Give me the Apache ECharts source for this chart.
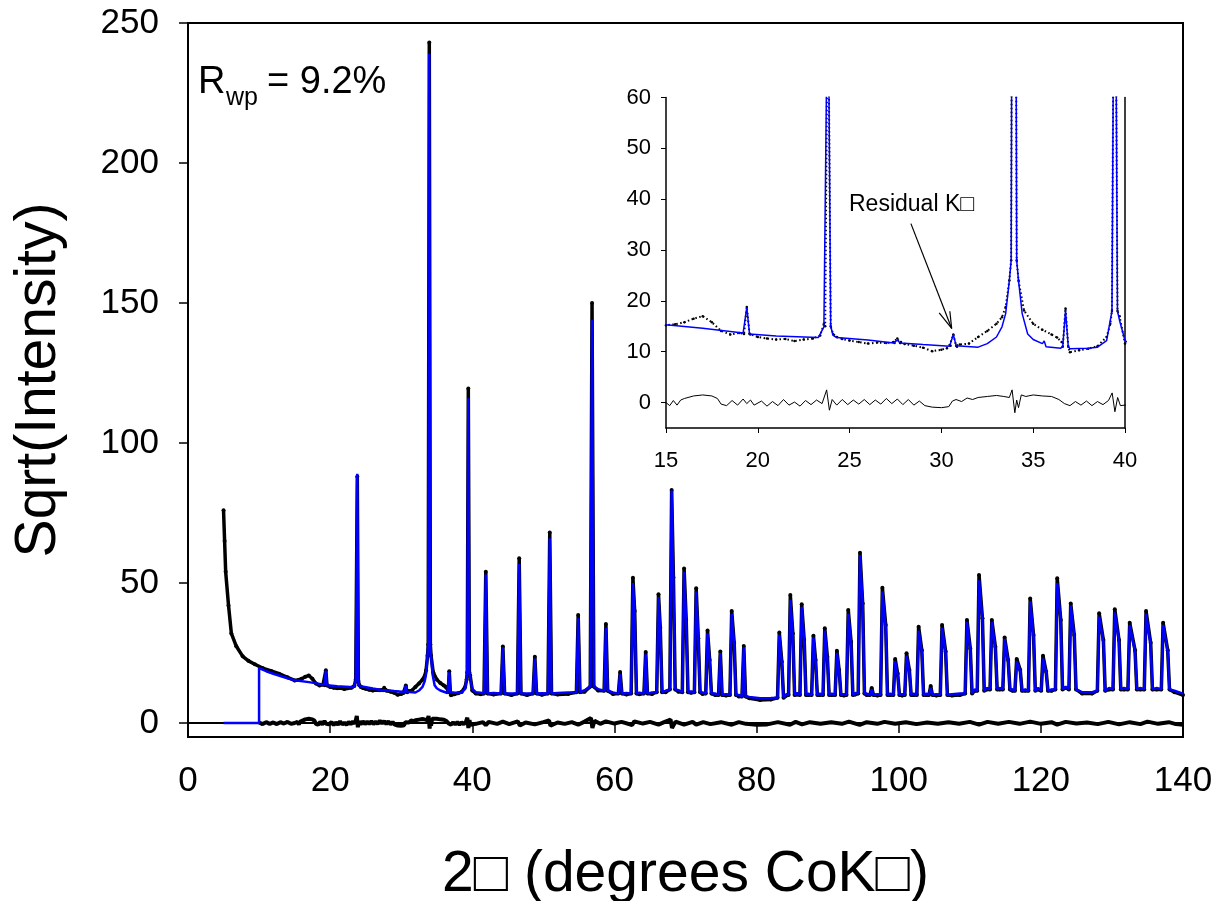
<!DOCTYPE html>
<html><head><meta charset="utf-8">
<script src="https://cdn.jsdelivr.net/npm/echarts@6/dist/echarts.min.js"></script>
<style>html,body{margin:0;padding:0;background:#fff}#c{width:1217px;height:901px}</style>
</head><body><div id="c"></div>
<script>
// ---------------- DATA ----------------
const mainXTicks = [0, 20, 40, 60, 80, 100, 120, 140];
const mainYTicks = [0, 50, 100, 150, 200, 250];
const insetXTicks = [15, 20, 25, 30, 35, 40];
const insetYTicks = [0, 10, 20, 30, 40, 50, 60];

// Bragg peaks: [2θ, observed top, calculated top, local base, (shoulder 2θ, shoulder obs, shoulder calc)]
const peaks = [
  [19.4, 18.8, 18.7, 13.5],
  [23.82, 88, 89, 15],
  [27.6, 12.6, 12.3, 11.7],
  [30.65, 13.4, 13.4, 11.2],
  [33.95, 243, 239, 28],
  [36.76, 18.5, 18.1, 11],
  [39.44, 119.5, 116, 18],
  [41.9, 54, 53, 10.5],
  [44.3, 27.3, 27, 10.5],
  [46.6, 58.8, 56.8, 10.5],
  [48.8, 23.7, 23, 10.5],
  [50.9, 68, 66, 10.5],
  [54.9, 38.6, 37.5, 11],
  [56.85, 150, 144, 13],
  [58.8, 35.4, 34, 11.5],
  [60.8, 18.2, 17.5, 10.5],
  [62.6, 51.9, 50, 10.5, 62.85, 40, 39],
  [64.4, 25.4, 24.5, 10.5],
  [66.2, 46, 45, 11, 66.45, 34, 33],
  [68.05, 83.2, 83, 12, 68.3, 52, 50],
  [69.8, 55.2, 54, 11, 70.1, 36.8, 36],
  [71.5, 48.1, 47, 11, 71.8, 30.3, 30],
  [73.1, 33, 32, 10.5, 73.4, 22.5, 22],
  [74.9, 25.5, 25, 10],
  [76.5, 40, 39, 10, 76.85, 28.6, 28],
  [78.2, 27.5, 27, 9.5],
  [83.2, 32.3, 31.5, 9, 83.55, 21.9, 21.5],
  [84.75, 45.7, 44, 10, 85.1, 32, 31],
  [86.35, 42.4, 41.5, 10, 86.7, 29.6, 29],
  [88.0, 31.2, 30.5, 10, 88.3, 22.5, 22],
  [89.6, 33.8, 33, 10, 89.96, 23.7, 23],
  [91.3, 25.8, 25, 10, 91.62, 18.9, 18.5],
  [92.9, 40.4, 39, 10, 93.3, 29, 28.5],
  [94.55, 60.8, 60, 10.5, 94.93, 42.7, 42],
  [96.2, 12.5, 12, 10],
  [97.7, 48.3, 47, 10, 98.17, 35, 34],
  [99.5, 22.9, 22, 10, 99.85, 17.7, 17.2],
  [101.1, 24.9, 24, 10, 101.5, 18.9, 18.5],
  [102.8, 34.4, 33, 10, 103.25, 26, 25.5],
  [104.5, 13.2, 12.5, 10],
  [106.1, 35, 34, 10, 106.6, 25.5, 25],
  [109.6, 36.8, 36, 10.5, 110.07, 26.6, 26],
  [111.3, 52.9, 51, 11.5, 111.78, 37.4, 36.5],
  [113.1, 36.8, 36, 12, 113.6, 27.2, 26.5],
  [114.9, 30.5, 30, 12, 115.4, 22.5, 22],
  [116.6, 22.9, 22, 11.5, 117.1, 18.9, 18.5],
  [118.5, 44.5, 43.5, 11.5, 118.97, 31.4, 31],
  [120.3, 24, 23, 11.5, 120.75, 18.3, 18],
  [122.3, 51.7, 50, 12, 122.8, 36.8, 36],
  [124.2, 42.7, 42, 12, 124.7, 31.4, 31],
  [128.2, 39.2, 38, 11.5, 128.8, 29.6, 29],
  [130.4, 40.6, 39.5, 12, 131.0, 29.6, 29],
  [132.5, 35.8, 35, 12, 133.25, 26, 25.5],
  [134.8, 40, 39, 12, 135.45, 28.7, 28],
  [137.2, 35.8, 35, 12, 137.85, 26, 25.5]
];

// observed profile between peaks [2θ, sqrt(I)]
const obsBetween = [
  [5.0,76],[5.15,65],[5.3,54],[5.7,42],[6.1,32],[6.8,27.4],[7.7,23.8],[8.5,22.2],[9.4,21.0],
  [10.5,19.6],[11.7,18.6],[12.8,17.6],[14.0,16.3],[15.0,15.2],[15.5,15.4],[16.0,15.8],[16.5,16.5],
  [17.0,17.0],[17.5,15.8],[18.0,14.1],[18.5,13.4],[19.0,13.7],[19.6,13.4],[20.0,12.9],[20.5,12.6],
  [21.0,12.4],[21.5,12.5],[22.0,12.1],[22.5,12.4],[23.0,12.6],[23.4,13.2],[23.6,15.5],[24.1,13.5],
  [24.3,12.9],[24.6,12.5],[25.0,12.2],[25.5,11.9],[26.0,11.6],[26.5,11.8],[27.0,11.7],[27.4,11.9],
  [27.8,11.9],[28.0,11.5],[28.5,11.2],[29.0,10.8],[29.5,10.1],[30.0,10.4],[30.3,10.7],[30.45,11.3],
  [30.85,11.0],[31.0,11.4],[31.5,11.6],[32.0,12.9],[32.5,14.1],[33.0,15.5],[33.3,16.8],[33.5,18.8],
  [33.7,24],[34.2,24],[34.5,18.1],[35.0,15.5],[35.5,14.3],[36.0,13.4],[36.3,12.8],[36.55,11.9],
  [37.0,9.9],[37.5,10.3],[38.0,10.6],[38.5,11.1],[39.0,12.9],[39.2,15.5],[39.7,17],[40.0,11.6],
  [40.5,10.5],[41.2,10.3],[43.0,10.2],[45.5,10.0],[47.7,10.0],[49.8,10.1],[52.0,10.2],[53.5,10.4],
  [55.8,11.2],[57.7,11.6],[59.8,10.4],[61.7,10.2],[63.5,10.3],[65.3,10.4],[67.2,11],[69.0,11.2],
  [70.8,10.8],[72.4,10.4],[74.2,10.0],[75.7,9.8],[77.5,9.5],[79.0,8.8],[80.5,8.2],[82.0,8.4],
  [84.2,9.8],[85.7,10.2],[87.3,10],[88.9,10],[90.6,10],[92.3,9.8],[93.9,10.2],[95.5,10],
  [97.0,9.8],[98.8,10],[100.5,9.8],[102.1,10],[103.9,10],[105.3,9.8],[107.5,9.8],[108.6,10],
  [110.7,11.5],[112.4,12],[114.2,12],[116.0,11.5],[117.8,11.5],[119.6,12],[121.5,11.5],[123.5,12.5],
  [125.8,10.5],[127.2,10.5],[129.6,12],[131.7,12],[134.0,12],[136.3,12],[138.8,11],[140.0,10]
];

// calculated profile between peaks [2θ, sqrt(I)]
const calcBetween = [
  [5,0],[10,0],[10,19.6],[11,18.5],[12,17.6],[13,16.8],[14,16.0],[15,15.3],[17,14.6],[19.2,13.7],
  [19.6,13.5],[21,13.1],[23.3,12.8],[23.6,14.9],[24.1,13.2],[24.3,12.8],[26,12.3],[27.4,11.7],
  [27.8,11.6],[29,11.4],[30.45,11.1],[30.85,11.1],[32.0,10.9],[32.5,11.6],[33.0,12.9],[33.3,14.9],
  [33.5,17.5],[33.7,24],[34.2,24],[34.4,17.5],[34.7,13.5],[35.0,12.4],[35.5,11.6],[35.6,12.1],
  [35.7,11.0],[36.5,10.7],[37.0,10.6],[38.0,10.7],[38.5,10.9],[39.0,12.2],[39.2,16.2],[39.7,16.2],
  [40.0,12.2],
  [40.5,11],[41.2,10.8],[43.0,10.7],[45.5,10.5],[47.7,10.5],[49.8,10.6],[52.0,10.7],[53.5,10.9],
  [55.8,11.7],[57.7,12.1],[59.8,10.9],[61.7,10.7],[63.5,10.8],[65.3,10.9],[67.2,11.5],[69.0,11.7],
  [70.8,11.3],[72.4,10.9],[74.2,10.5],[75.7,10.3],[77.5,10],[79.0,9.3],[80.5,8.8],[82.0,8.9],
  [84.2,10.3],[85.7,10.7],[87.3,10.5],[88.9,10.5],[90.6,10.5],[92.3,10.3],[93.9,10.7],[95.5,10.5],
  [97.0,10.3],[98.8,10.5],[100.5,10.3],[102.1,10.5],[103.9,10.5],[105.3,10.3],[107.5,10.3],[108.6,10.5],
  [110.7,12],[112.4,12.5],[114.2,12.5],[116.0,12],[117.8,12],[119.6,12.5],[121.5,12],[123.5,13],
  [125.8,11],[127.2,11],[129.6,12.5],[131.7,12.5],[134.0,12.5],[136.3,12.5],[138.8,11.5],[140.0,10.5]
];

// difference curve (obs - calc) [2θ, value]
const residual = [
  [10,0.2],[10.5,-0.4],[11,0.3],[11.5,-0.3],[12,0.2],[12.5,-0.4],[13,0.3],[13.5,-0.2],[14,0.4],[14.5,-0.3],
  [15.0,0],[15.2,-0.6],[15.4,0.4],[15.6,-0.5],[15.8,0.5],[16.0,0.8],[16.5,1.3],[17.0,1.5],[17.5,1.3],
  [17.8,0.8],[18.0,-0.3],[18.3,-0.6],[18.6,0.4],[18.9,-0.5],[19.2,0.7],[19.4,-0.2],[19.6,0.5],[19.8,-0.5],
  [20.2,0.3],[20.5,-0.7],[20.8,0.2],[21.1,-0.6],[21.4,0.6],[21.7,-0.5],[22.0,0.1],[22.3,-0.7],[22.6,0.4],
  [22.9,-0.4],[23.2,0.5],[23.5,-0.2],[23.75,2.5],[23.9,-1.5],[24.05,0.6],[24.3,-0.5],[24.6,0.6],[24.9,-0.4],
  [25.2,0.5],[25.5,-0.3],[25.8,0.6],[26.1,-0.4],[26.4,0.5],[26.7,-0.3],[27.0,0.8],[27.3,-0.2],[27.6,0.7],
  [27.9,-0.4],[28.2,0.6],[28.5,-0.5],[28.8,0.3],[29.1,-0.6],[29.5,-0.9],[30.0,-1.0],[30.4,-0.8],[30.6,0.3],
  [30.8,0.6],[31.1,0.2],[31.4,0.9],[31.7,0.6],[32.0,1.0],[32.5,1.2],[33.0,1.4],[33.4,1.2],[33.7,1.0],
  [33.85,2.5],[34.0,-2.0],[34.1,0.5],[34.2,-1.0],[34.35,1.5],[34.6,1.2],[35.0,1.5],[35.5,1.3],[36.0,1.2],
  [36.4,0.6],[36.7,-0.2],[37.0,-0.6],[37.3,0.2],[37.6,-0.5],[37.9,0.3],[38.2,-0.6],[38.5,0.2],[38.8,-0.4],
  [39.1,0.4],[39.3,1.9],[39.45,-1.8],[39.6,1.0],[39.75,-0.6],[40.0,-0.5],
  [40.5,-0.3],[41.5,0.3],[41.9,-0.8],[42.3,0.4],[43.5,-0.3],[44.3,0.5],[45.2,-0.4],[46.4,0.6],[46.7,-0.9],
  [47.5,0.2],[48.8,-0.5],[50,0.3],[50.8,0.9],[51.0,-1],[52,0.2],[53,-0.3],[54,0.3],[54.9,-0.6],[55.8,0.5],
  [56.7,1.8],[56.9,-1.8],[57.2,0.8],[58,-0.3],[58.8,0.6],[60,-0.2],[61,0.4],[62.5,-0.7],[62.8,0.6],[64,-0.2],
  [65,0.4],[66.2,-0.6],[67,0.3],[67.9,1.2],[68.1,-1.8],[68.6,0.5],[69.8,-0.6],[71,0.4],[71.5,-0.6],[72.5,0.3],
  [73.5,-0.4],[75,0.3],[76.5,-0.6],[77.5,0.3],[78.5,-0.3],[80,-0.6],[81.5,-0.5],[83,0.3],[84.7,-0.6],
  [85.5,0.4],[86.4,-0.5],[87.5,0.3],[89,-0.3],[90.5,0.3],[92,-0.3],[93,0.5],[94.5,-0.7],[95.5,0.3],[97,-0.3],
  [98,0.4],[99.5,-0.3],[101,0.3],[102.5,-0.4],[104,0.2],[105.5,-0.3],[107,0.3],[108.5,-0.3],[110,0.4],
  [111.3,-0.6],[112.5,0.4],[114,-0.3],[115.5,0.4],[117,-0.3],[118.5,0.5],[120,-0.3],[121.5,0.3],[122.3,-0.6],
  [123.5,0.4],[125,-0.2],[126.5,0.2],[128,-0.4],[129.5,0.4],[131,-0.5],[132.5,0.3],[134,-0.4],[135,0.5],
  [136.5,-0.3],[138,0.3],[139,-0.4],[140,-0.6]
];

const xTitle = '2\u25A1 (degrees CoK\u25A1)';
const yTitle = 'Sqrt(Intensity)';
const insetNote = 'Residual K\u25A1';
const arrowTail = [28.34, 35.2], arrowTip = [30.56, 14.57];
const arrowBarbs = [[29.88, 17.64], [30.46, 17.97]];

// ---------------- BUILD ----------------
function profile(between, col) {
  const pts = between.map(p => [p[0], p[1]]);
  peaks.forEach(pk => {
    const hw = pk[0] < 40 ? 0.15 : 0.25;
    const last = pk.length > 4 ? pk[4] : pk[0];
    pts.push([pk[0] - hw, pk[3]], [pk[0], pk[col]]);
    if (pk.length > 4) pts.push([pk[4], pk[col + 4]]);
    pts.push([last + hw, pk[3]]);
  });
  pts.sort((a, b) => a[0] - b[0]);
  return pts;
}
const obs = profile(obsBetween, 1);
const calc = profile(calcBetween, 2);

const FONT = '"Liberation Sans", Arial, sans-serif';
const chart = echarts.init(document.getElementById('c'), null, {renderer: 'canvas'});

const option = {
  animation: false,
  backgroundColor: '#fff',
  grid: [
    {left: 188, right: 34, top: 23, bottom: 164, outerBoundsMode: 'none', containLabel: false,
     show: true, borderColor: '#000', borderWidth: 2, backgroundColor: 'transparent'},
    {left: 666, right: 92, top: 97.5, bottom: 473, outerBoundsMode: 'none', containLabel: false, show: false}
  ],
  xAxis: [
    {gridIndex: 0, type: 'value', min: 0, max: 140, interval: 20,
     axisLine: {lineStyle: {color: '#000', width: 2}},
     axisTick: {show: true, length: 10, lineStyle: {color: '#000', width: 1.5}},
     axisLabel: {color: '#000', fontSize: 35, fontFamily: FONT, margin: 27},
     splitLine: {show: false},
     name: xTitle, nameLocation: 'middle', nameGap: 110,
     nameTextStyle: {color: '#000', fontSize: 57, fontFamily: FONT}},
    {gridIndex: 1, type: 'value', min: 15, max: 40, interval: 5,
     axisLine: {onZero: false, lineStyle: {color: '#000', width: 1.5}},
     axisTick: {show: true, length: 5, lineStyle: {color: '#000', width: 1}},
     axisLabel: {color: '#000', fontSize: 22, fontFamily: FONT, margin: 22},
     splitLine: {show: false}}
  ],
  yAxis: [
    {gridIndex: 0, type: 'value', min: -5, max: 250,
     axisLine: {onZero: false, lineStyle: {color: '#000', width: 2}},
     axisTick: {show: true, length: 9, customValues: mainYTicks, lineStyle: {color: '#000', width: 1.5}},
     axisLabel: {color: '#000', fontSize: 35, fontFamily: FONT, margin: 29, customValues: mainYTicks},
     splitLine: {show: false},
     name: yTitle, nameLocation: 'middle', nameGap: 120, nameRotate: 90,
     nameTextStyle: {color: '#000', fontSize: 57, fontFamily: FONT}},
    {gridIndex: 1, type: 'value', min: -5, max: 60,
     axisLine: {onZero: false, lineStyle: {color: '#000', width: 1.5}},
     axisTick: {show: true, length: 5, customValues: insetYTicks, lineStyle: {color: '#000', width: 1}},
     axisLabel: {color: '#000', fontSize: 22, fontFamily: FONT, margin: 15, customValues: insetYTicks},
     splitLine: {show: false}},
    {gridIndex: 1, type: 'value', min: -5, max: 60, position: 'right',
     axisLine: {show: true, onZero: false, lineStyle: {color: '#000', width: 1.5}},
     axisTick: {show: false}, axisLabel: {show: false}, splitLine: {show: false}}
  ],
  series: [
    {name: 'obs', type: 'line', xAxisIndex: 0, yAxisIndex: 0, data: obs,
     showSymbol: true, symbol: 'circle', symbolSize: 4,
     itemStyle: {color: '#000'}, lineStyle: {color: '#000', width: 3.5}, z: 2},
    {name: 'calc', type: 'line', xAxisIndex: 0, yAxisIndex: 0, data: calc,
     showSymbol: false, lineStyle: {color: '#0000ff', width: 2.5}, z: 3},
    {name: 'diff', type: 'line', xAxisIndex: 0, yAxisIndex: 0, data: residual,
     showSymbol: false, lineStyle: {color: '#000', width: 4}, z: 2},

    {name: 'obs inset', type: 'line', xAxisIndex: 1, yAxisIndex: 1, data: obs,
     showSymbol: true, symbol: 'circle', symbolSize: 2.5,
     itemStyle: {color: '#000'}, lineStyle: {color: '#000', width: 2, type: [1.5, 2.5]}, z: 2},
    {name: 'calc inset', type: 'line', xAxisIndex: 1, yAxisIndex: 1, data: calc,
     showSymbol: false, lineStyle: {color: '#0000ff', width: 1.5}, z: 3},
    {name: 'diff inset', type: 'line', xAxisIndex: 1, yAxisIndex: 1, data: residual,
     showSymbol: false, lineStyle: {color: '#000', width: 1}, z: 2,
     markLine: {silent: true, symbol: 'none', animation: false,
       label: {show: false}, lineStyle: {color: '#000', width: 1.2, type: 'solid'},
       data: [
         [{coord: arrowTail}, {coord: arrowTip}],
         [{coord: arrowBarbs[0]}, {coord: arrowTip}],
         [{coord: arrowBarbs[1]}, {coord: arrowTip}]
       ]}}
  ],
  graphic: [
    {type: 'text', left: 198, top: 64, style: {text: 'R', fontSize: 38, fontFamily: FONT, fill: '#000'}},
    {type: 'text', left: 226, top: 86, style: {text: 'wp', fontSize: 25, fontFamily: FONT, fill: '#000'}},
    {type: 'text', left: 267, top: 64, style: {text: '= 9.2%', fontSize: 38, fontFamily: FONT, fill: '#000'}},
    {type: 'text', left: 849, top: 193, style: {text: insetNote, fontSize: 23, fontFamily: FONT, fill: '#000'}}
  ]
};
chart.setOption(option);
</script>
</body></html>
